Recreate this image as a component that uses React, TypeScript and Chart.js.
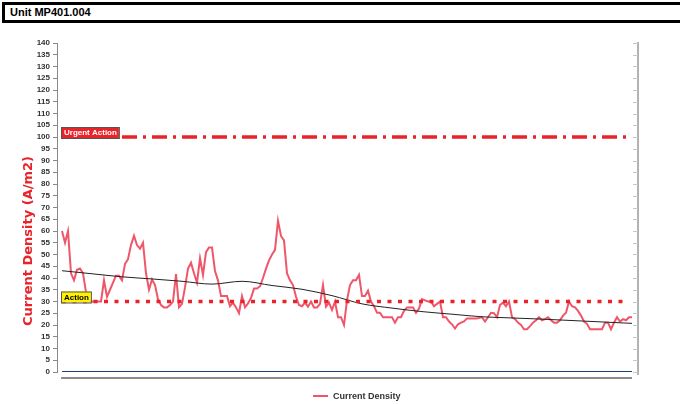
import React, { useEffect, useRef } from "react";
import { Chart, registerables } from "chart.js";

Chart.register(...registerables);

const chartTitle = "Unit MP401.004";
const yAxisTitle = "Current Density (A/m2)";
const seriesName = "Current Density";
const urgentLabel = "Urgent Action";
const actionLabel = "Action";
const urgentLevel = 100;
const actionLevel = 30;
const yTickStep = 5;
const yMin = 0;
const yMax = 140;

const currentDensity = [
  60, 55, 60, 42, 39, 43.5, 44, 42, 34, 30,
  30, 30, 30, 30, 39, 32, 35, 38, 41, 41,
  39, 46, 48, 54, 58, 54, 52.5, 55, 42, 35,
  39.4, 37, 31, 28.5, 27.5, 27.5, 28.5, 30, 41.7, 27.5,
  29, 36, 44, 46.5, 42, 38, 48.4, 41.3, 51, 53,
  53, 43, 39, 32.3, 32.3, 32.3, 28, 29.5, 27.5, 25,
  32.3, 27.5, 29.2, 31.5, 35.5, 35.5, 36.5, 40, 44, 47.5,
  50, 52, 64.4, 57.9, 56, 42, 39, 37, 32, 28.5,
  28, 29.5, 27.8, 30, 27.5, 27.5, 29, 37, 27.8, 29.5,
  26.4, 30, 23.3, 23.3, 20, 30.6, 37, 39, 39, 41.3,
  32.3, 32.3, 34.6, 30, 28, 25.2, 25.2, 23.3, 23.3, 23.3,
  23.3, 21, 23.3, 23.3, 26, 27.5, 27.5, 27.5, 25.2, 27,
  31, 30.5, 30, 30, 28, 29, 30, 23.3, 23.3, 21.5,
  20.3, 18.5, 20.3, 21, 21.5, 22.8, 22.8, 22.8, 22.8, 23,
  23.3, 21.5, 23.3, 25.2, 25, 23.3, 28.5, 29.5, 28, 30,
  23.3, 22.5, 21, 20, 18.2, 18.2, 19.5, 21, 22, 23.3,
  22, 22.5, 23.3, 22, 21, 21, 22, 24, 25.2, 30,
  28, 27.5, 26, 24, 21.5, 20.5, 18.2, 18.2, 18.2, 18.2,
  18.2, 21, 21, 18.2, 21, 23.3, 21.5, 22.5, 22, 23.3,
  23.3,
];

const trendIndex = [0, 10, 20, 30, 40, 50, 60, 70, 80, 90, 100, 110, 120, 130, 140, 150, 160, 170, 180, 190];
const trendValues = [43.1, 41.8, 40.5, 39.6, 38.6, 37.4, 38.6, 36.8, 35.2, 32.5, 29, 27.2, 25.7, 24.6, 23.5, 23, 22.5, 21.9, 21.3, 20.7];

const lineColor = "#F0566A";
const red = "#E8232A";

const sampleCount = currentDensity.length;
const lastIndex = sampleCount - 1;

const overlayPlugin = {
  id: "overlay",
  afterDatasetsDraw(chart: any) {
    const { ctx, chartArea, scales } = chart;
    const y = scales.y;
    const x = scales.x;
    ctx.save();

    // right axis
    const rx = chartArea.right;
    ctx.strokeStyle = "#999";
    ctx.lineWidth = 1.5;
    ctx.beginPath();
    ctx.moveTo(rx, chartArea.top - 1);
    ctx.lineTo(rx, chartArea.bottom + 3);
    ctx.stroke();
    ctx.strokeStyle = "#c8c8c8";
    ctx.lineWidth = 1;
    for (let v = yMin; v <= yMax; v += yTickStep) {
      const py = Math.round(y.getPixelForValue(v)) + 0.5;
      ctx.beginPath();
      ctx.moveTo(rx - 5, py);
      ctx.lineTo(rx, py);
      ctx.stroke();
    }

    // bottom axis line (offset)
    const by = chartArea.bottom + 6;
    ctx.strokeStyle = "#666";
    ctx.lineWidth = 1.5;
    ctx.beginPath();
    ctx.moveTo(x.getPixelForValue(-0.3), by);
    ctx.lineTo(x.getPixelForValue(lastIndex), by);
    ctx.stroke();

    // threshold labels
    const drawTag = (text: string, level: number, fill: string, color: string) => {
      ctx.font = "bold 8px Arial, 'Liberation Sans', sans-serif";
      const w = ctx.measureText(text).width + 5;
      const h = 11;
      const left = chartArea.left + 4;
      const bottom = y.getPixelForValue(level) + 1;
      ctx.fillStyle = fill;
      ctx.fillRect(left, bottom - h, w, h);
      ctx.strokeStyle = "#555";
      ctx.lineWidth = 1;
      ctx.strokeRect(left + 0.5, bottom - h + 0.5, w, h);
      ctx.fillStyle = color;
      ctx.textBaseline = "middle";
      ctx.textAlign = "left";
      ctx.fillText(text, left + 3, bottom - h / 2 + 0.5);
    };
    drawTag(urgentLabel, urgentLevel, red, "#ffffff");
    drawTag(actionLabel, actionLevel, "#FFF200", "#000000");

    // y title
    ctx.save();
    ctx.translate(28.5, 241);
    ctx.rotate(-Math.PI / 2);
    ctx.font = "bold 13px 'DejaVu Sans', Verdana, sans-serif";
    ctx.fillStyle = red;
    ctx.textAlign = "center";
    ctx.textBaseline = "middle";
    ctx.fillText(yAxisTitle, 0, 0);
    ctx.restore();

    // legend
    const ly = 396;
    ctx.strokeStyle = lineColor;
    ctx.lineWidth = 2;
    ctx.beginPath();
    ctx.moveTo(313, ly);
    ctx.lineTo(328, ly);
    ctx.stroke();
    ctx.font = "bold 9px Arial, 'Liberation Sans', sans-serif";
    ctx.fillStyle = "#333";
    ctx.textAlign = "left";
    ctx.textBaseline = "middle";
    ctx.fillText(seriesName, 333, ly + 0.5);

    ctx.restore();
  },
};

export default function App() {
  const canvasRef = useRef<HTMLCanvasElement | null>(null);

  useEffect(() => {
    const canvas = canvasRef.current;
    if (!canvas) return;
    const chart = new Chart(canvas, {
      type: "line",
      data: {
        datasets: [
          {
            label: seriesName,
            data: currentDensity.map((v, i) => ({ x: i, y: v })),
            borderColor: lineColor,
            borderWidth: 2,
            pointRadius: 0,
            tension: 0,
            order: 3,
          },
          {
            label: "Trend",
            data: trendValues.map((v, i) => ({ x: trendIndex[i], y: v })),
            borderColor: "#222",
            borderWidth: 1,
            pointRadius: 0,
            cubicInterpolationMode: "monotone",
            order: 2,
          },
          {
            label: urgentLabel,
            data: [
              { x: 0, y: urgentLevel },
              { x: lastIndex - 1.5, y: urgentLevel },
            ],
            borderColor: red,
            borderWidth: 3.5,
            borderDash: [15, 6, 3, 6],
            pointRadius: 0,
            order: 1,
          },
          {
            label: actionLabel,
            data: [
              { x: 0, y: actionLevel },
              { x: lastIndex - 1.5, y: actionLevel },
            ],
            borderColor: red,
            borderWidth: 3.5,
            borderDash: [4, 6.5],
            pointRadius: 0,
            order: 1,
          },
          {
            label: "Zero",
            data: [
              { x: 0, y: 0 },
              { x: lastIndex, y: 0 },
            ],
            borderColor: "#1F3F73",
            borderWidth: 2,
            pointRadius: 0,
            order: 0,
          },
        ],
      },
      options: {
        animation: false,
        responsive: false,
        layout: { padding: { top: 43, right: 42, bottom: 32, left: 0 } },
        plugins: {
          legend: { display: false },
          tooltip: { enabled: false },
        },
        scales: {
          x: {
            type: "linear",
            min: -5 / 3,
            max: lastIndex + 2,
            display: false,
          },
          y: {
            min: yMin,
            max: yMax,
            afterFit: (scale: any) => {
              scale.width = 57;
            },
            ticks: {
              stepSize: yTickStep,
              autoSkip: false,
              color: "#333",
              font: { size: 8, weight: "bold", family: "Arial, 'Liberation Sans', sans-serif" },
              padding: 3,
            },
            grid: {
              drawOnChartArea: false,
              drawTicks: true,
              tickLength: 4,
              color: "#888",
            },
            border: { color: "#888", width: 1 },
          },
        },
      },
      plugins: [overlayPlugin],
    });
    return () => chart.destroy();
  }, []);

  return (
    <div style={{ position: "absolute", left: 0, top: 0, width: 680, height: 404, background: "#fff", overflow: "hidden" }}>
      <canvas ref={canvasRef} width={680} height={404} style={{ position: "absolute", left: 0, top: 0 }} />
      <div
        style={{
          position: "absolute",
          left: 2,
          top: 2,
          width: 700,
          height: 15,
          border: "3px solid #000",
          fontFamily: "Arial, 'Liberation Sans', sans-serif",
          fontWeight: "bold",
          fontSize: 11,
          lineHeight: "15px",
          paddingLeft: 5,
          color: "#000",
          background: "#fff",
        }}
      >
        {chartTitle}
      </div>
    </div>
  );
}
